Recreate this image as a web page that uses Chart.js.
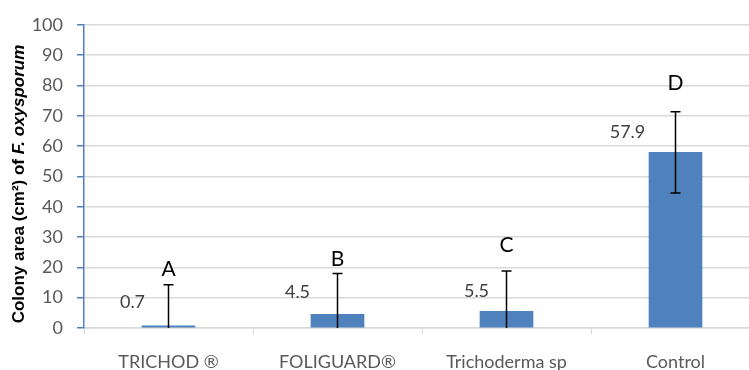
<!DOCTYPE html>
<html lang="en">
<head>
<meta charset="UTF-8">
<title>Colony area of F. oxysporum</title>
<script src="https://cdn.jsdelivr.net/npm/chart.js"></script>
<style>
  html, body { margin: 0; padding: 0; background: #fff; overflow: hidden; }
  .chart-wrapper { width: 760px; height: 370px; position: relative; }
</style>
</head>
<body>
<div class="chart-wrapper">
  <canvas id="colonyChart"></canvas>
</div>
<script>
// chart data
const categories = ['TRICHOD \u00AE', 'FOLIGUARD\u00AE', 'Trichoderma sp', 'Control'];
const colonyArea = [0.7, 4.5, 5.5, 57.9];
const errorSize = [13.6, 13.5, 13.3, 13.4];
const groupLetters = ['A', 'B', 'C', 'D'];
const yTicks = [0, 10, 20, 30, 40, 50, 60, 70, 80, 90, 100];

// where the annotations sit (axis units for height, px from bar centre for x)
const letterHeight = [19.5, 22.7, 27.3, 80.7];
const valueLabelHeight = [8.4, 11.7, 12.3, 64.6];
const valueLabelShift = [-36, -40, -30, -48];

const annotations = {
  id: 'annotations',
  afterDatasetsDraw(chart) {
    const ctx = chart.ctx;
    const y = chart.scales.y;
    const meta = chart.getDatasetMeta(0);
    const area = chart.chartArea;

    // error bars
    ctx.save();
    ctx.beginPath();
    ctx.rect(area.left, area.top - 5, area.right - area.left, area.bottom - area.top + 5);
    ctx.clip();
    ctx.strokeStyle = '#000';
    ctx.lineWidth = 1.5;
    meta.data.forEach((bar, i) => {
      const top = y.getPixelForValue(colonyArea[i] + errorSize[i]);
      const bottom = y.getPixelForValue(colonyArea[i] - errorSize[i]);
      ctx.beginPath();
      ctx.moveTo(bar.x, top);
      ctx.lineTo(bar.x, bottom);
      ctx.moveTo(bar.x - 5, top);
      ctx.lineTo(bar.x + 5, top);
      ctx.moveTo(bar.x - 5, bottom);
      ctx.lineTo(bar.x + 5, bottom);
      ctx.stroke();
    });
    ctx.restore();

    // letters and value labels
    ctx.save();
    ctx.textAlign = 'center';
    ctx.textBaseline = 'middle';
    meta.data.forEach((bar, i) => {
      ctx.fillStyle = '#000';
      ctx.font = '21px Lato';
      ctx.fillText(groupLetters[i], bar.x, y.getPixelForValue(letterHeight[i]));
      ctx.fillStyle = '#404040';
      ctx.font = '18px Lato';
      ctx.fillText(colonyArea[i].toFixed(1), bar.x + valueLabelShift[i], y.getPixelForValue(valueLabelHeight[i]));
    });
    ctx.restore();

    // y axis title with italic species name
    ctx.save();
    const part1 = 'Colony area (cm\u00B2) of ';
    const part2 = 'F. oxysporum';
    const f1 = 'bold 17px "Liberation Sans"';
    const f2 = 'italic bold 17px "Liberation Sans"';
    ctx.font = f1;
    const w1 = ctx.measureText(part1).width;
    ctx.font = f2;
    const w2 = ctx.measureText(part2).width;
    ctx.translate(19, 184);
    ctx.rotate(-Math.PI / 2);
    ctx.textBaseline = 'middle';
    ctx.textAlign = 'left';
    ctx.fillStyle = '#000';
    ctx.font = f1;
    ctx.fillText(part1, -(w1 + w2) / 2, 0);
    ctx.font = f2;
    ctx.fillText(part2, -(w1 + w2) / 2 + w1, 0);
    ctx.restore();
  }
};

const ctx = document.getElementById('colonyChart').getContext('2d');
new Chart(ctx, {
  type: 'bar',
  data: {
    labels: categories,
    datasets: [{
      data: colonyArea,
      backgroundColor: '#4f81bd',
      barThickness: 53
    }]
  },
  options: {
    responsive: true,
    maintainAspectRatio: false,
    animation: false,
    layout: { padding: { top: 20, left: 0, right: 0, bottom: 0 } },
    plugins: {
      legend: { display: false },
      tooltip: { enabled: false }
    },
    scales: {
      x: {
        afterFit(scale) { scale.height = 42; },
        grid: {
          drawOnChartArea: false,
          drawTicks: true,
          tickLength: 6,
          color: '#d9d9d9',
          offset: true
        },
        border: { color: '#d9d9d9', width: 1.5 },
        ticks: {
          color: '#595959',
          font: { family: 'Lato', size: 18 },
          padding: 17,
          maxRotation: 0
        }
      },
      y: {
        min: 0,
        max: 100,
        afterFit(scale) { scale.width = 84; },
        afterBuildTicks(scale) { scale.ticks = yTicks.map(v => ({ value: v })); },
        grid: {
          color: '#d9d9d9',
          lineWidth: 1.5,
          tickColor: '#4f81bd',
          tickLength: 7
        },
        border: { color: '#4f81bd', width: 1.5 },
        ticks: {
          color: '#595959',
          font: { family: 'Lato', size: 18 },
          padding: 14
        }
      }
    }
  },
  plugins: [annotations]
});
</script>
</body>
</html>
